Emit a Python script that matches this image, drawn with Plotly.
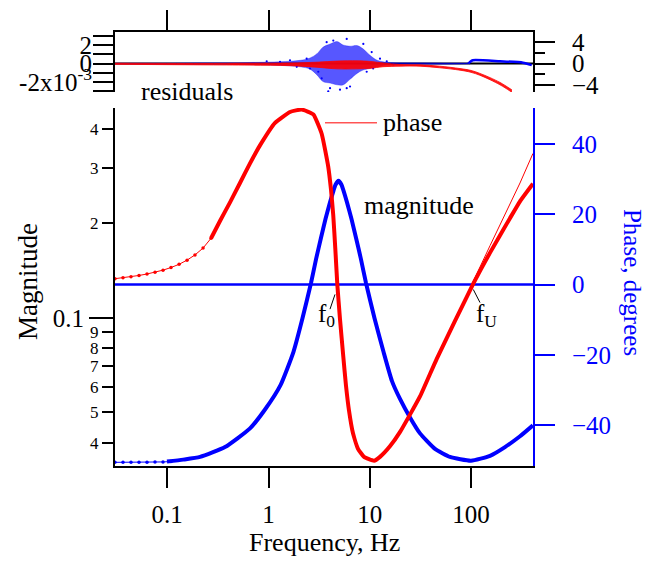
import plotly.graph_objects as go

# ---------------- data ----------------
# magnitude (left log axis), sparse low-frequency points
mag_freq_lo = [0.0305, 0.0366, 0.0439, 0.0527, 0.0632, 0.0758, 0.0909, 0.109]
mag_lo = [0.0346, 0.0346, 0.0346, 0.0346, 0.0346, 0.0347, 0.0347, 0.0348]

# magnitude, dense part
mag_freq = [0.0995, 0.144, 0.211, 0.372, 0.657, 0.924, 1.314, 1.765, 2.165, 2.628,
            2.944, 3.298, 3.653, 4.047, 4.383, 4.586, 4.909, 5.255, 5.500, 5.956,
            6.597, 7.307, 8.188, 9.173, 11.13, 13.65, 16.56, 19.87, 24.94, 31.30,
            44.01, 61.90, 99.77, 153.7, 216, 304, 408]
mag = [0.0348, 0.0353, 0.0360, 0.0387, 0.0444, 0.0510, 0.0610, 0.0779, 0.0996, 0.1291,
       0.1536, 0.1800, 0.2064, 0.2333, 0.2544, 0.2656, 0.2734, 0.2656, 0.2544, 0.2333,
       0.2064, 0.1800, 0.1536, 0.1291, 0.0996, 0.0779, 0.0628, 0.0551, 0.0481, 0.0428,
       0.0382, 0.0360, 0.0350, 0.0363, 0.0387, 0.0419, 0.0454]

# phase (right axis, degrees), sparse low-frequency points
phase_freq_lo = [0.0305, 0.0366, 0.0439, 0.0527, 0.0632, 0.0758, 0.0909, 0.109,
                 0.131, 0.157, 0.188, 0.226, 0.271]
phase_lo = [1.68, 1.96, 2.26, 2.60, 3.02, 3.49, 4.11, 4.86, 5.78, 6.96, 8.44, 10.39, 13.18]

# phase, dense part
phase_freq = [0.271, 0.332, 0.417, 0.523, 0.657, 0.824, 1.16, 1.63, 2.13, 2.77,
              3.35, 3.89, 4.14, 4.36, 4.565, 4.78, 5.08, 5.475, 5.823, 6.232,
              6.827, 7.647, 8.765, 11.0, 12.6, 15.8, 19.9, 31.3, 45.8, 104,
              154, 242, 304, 408]
phase = [13.18, 18.1, 23.4, 28.9, 34.5, 39.6, 46.0, 49.1, 49.8, 48.4,
         42.9, 33.5, 27.0, 19.6, 10.25, 0.0, -9.86, -20.5, -28.8, -35.8,
         -42.3, -46.7, -49.0, -50.1, -49.0, -46.0, -41.9, -31.8, -21.1, 0.0,
         9.1, 18.9, 23.7, 28.7]

# phase model curve (thin line) at high frequency
model_freq = [45.8, 90.5, 154, 304, 408]
model_phase = [-21.1, -2.79, 11.1, 28.9, 37.3]

# residuals: magnitude (units of 1e-3), band limits up to ~90 Hz
res_mag_freq = [0.0305, 0.211, 0.657, 1.30, 2.05, 2.57, 3.01, 3.45, 4.05, 4.75,
                5.44, 6.38, 7.48, 8.57, 10.05, 11.8, 13.5, 15.8, 31.3, 93.7]
res_mag_hi = [0.05, 0.08, 0.12, 0.2, 0.35, 0.6, 1.06, 1.77, 2.1, 2.37,
              2.0, 1.87, 1.94, 1.59, 0.89, 0.36, 0.2, 0.12, 0.08, 0.06]
res_mag_lo = [-0.05, -0.08, -0.12, -0.2, -0.35, -0.6, -1.23, -1.94, -2.1, -2.29,
              -2.3, -1.7, -1.06, -0.7, -0.53, -0.35, -0.2, -0.12, -0.08, -0.04]

# residuals: magnitude above ~90 Hz (units of 1e-3)
res_mag_hf_freq = [93.7, 97.5, 104, 193, 325, 397]
res_mag_hf = [0.0, 0.18, 0.36, 0.25, 0.1, -0.17]

# residuals: magnitude, scattered points (units of 1e-3)
res_mag_pt_freq = [3.89, 4.05, 3.35, 5.08, 5.92, 6.38, 3.10, 3.75, 5.92, 4.36,
                   8.63, 10.44, 12.61, 1.63, 1.90, 1.30, 0.96, 2.38, 2.57, 14.7,
                   17.1, 9.32, 10.8]
res_mag_pt = [-3.0, -2.65, -1.59, -2.81, -2.65, -2.47, -0.88, 2.30, 2.65, 2.48,
              2.12, 1.24, 0.53, 0.36, -0.35, 0.18, 0.25, 0.53, -0.53, 0.25,
              -0.10, -0.88, -0.53]

# residuals: phase (degrees), band limits
res_ph_freq = [0.0305, 0.211, 0.657, 1.63, 3.01, 4.75, 7.48, 10.05, 13.5, 19.9,
               31.3, 49.0, 77.7, 99.8, 122, 154, 193, 216, 253]
res_ph_hi = [0.05, 0.0, 0.05, 0.1, 0.25, 0.45, 0.5, 0.4, 0.1, -0.2,
             -0.25, -0.5, -0.95, -1.3, -1.85, -2.65, -3.55, -4.1, -4.95]
res_ph_lo = [-0.15, -0.25, -0.3, -0.4, -0.7, -1.0, -1.0, -0.9, -0.6, -0.5,
             -0.5, -0.8, -1.25, -1.65, -2.2, -3.05, -4.0, -4.55, -5.4]

freq_ticks = [0.1, 1, 10, 100]
freq_tick_text = ["0.1", "1", "10", "100"]
mag_minor_vals = [0.04, 0.05, 0.06, 0.07, 0.08, 0.09, 0.2, 0.3, 0.4]
mag_minor_text = ["4", "5", "6", "7", "8", "9", "2", "3", "4"]
phase_ticks = [-40, -20, 0, 20, 40]
res_mag_ticks = [-2e-3, 0, 2e-3]
res_mag_text = ["-2x10<sup>-3</sup>", "0", "2"]
res_ph_ticks = [-4, 0, 4]

# ---------------- styling ----------------
W, H = 647, 562
BLUE = "#0000ff"
RED = "#ff0000"
FONT = "Liberation Serif, Times New Roman, serif"
SCALE = 1e-3


def px(x):
    return x / W


def py(y):
    return 1 - y / H


x_dom = [px(115), px(533)]
main_dom = [py(471), py(107)]
res_dom = [py(90.5), py(30)]
x_range = [-1.5153, 2.6111]
mag_range = [-1.4714, -0.3314]

fig = go.Figure()

# magnitude
fig.add_trace(go.Scatter(x=mag_freq_lo, y=mag_lo, mode="lines+markers",
                         line=dict(color=BLUE, width=1), marker=dict(color=BLUE, size=3.5),
                         xaxis="x", yaxis="y", hoverinfo="skip"))
fig.add_trace(go.Scatter(x=mag_freq, y=mag, mode="lines",
                         line=dict(color=BLUE, width=4, shape="spline", smoothing=0.5),
                         xaxis="x", yaxis="y", hoverinfo="skip"))
# same magnitude data carried by the overlay axis that holds the 0.1 decade tick
fig.add_trace(go.Scatter(x=mag_freq, y=mag, mode="lines", opacity=0,
                         line=dict(width=0), xaxis="x", yaxis="y5", hoverinfo="skip"))

# phase
fig.add_trace(go.Scatter(x=phase_freq_lo, y=phase_lo, mode="lines+markers",
                         line=dict(color=RED, width=1), marker=dict(color=RED, size=3.5),
                         xaxis="x", yaxis="y2", hoverinfo="skip"))
fig.add_trace(go.Scatter(x=model_freq, y=model_phase, mode="lines",
                         line=dict(color=RED, width=1),
                         xaxis="x", yaxis="y2", hoverinfo="skip"))
fig.add_trace(go.Scatter(x=phase_freq, y=phase, mode="lines",
                         line=dict(color=RED, width=4, shape="spline", smoothing=0.4),
                         xaxis="x", yaxis="y2", hoverinfo="skip"))

# magnitude residuals
fig.add_trace(go.Scatter(x=res_mag_freq, y=[v * SCALE for v in res_mag_lo], mode="lines",
                         line=dict(color="rgba(0,0,255,0.6)", width=0.5, shape="spline"),
                         xaxis="x2", yaxis="y3", hoverinfo="skip"))
fig.add_trace(go.Scatter(x=res_mag_freq, y=[v * SCALE for v in res_mag_hi], mode="lines",
                         line=dict(color="rgba(0,0,255,0.6)", width=0.5, shape="spline"),
                         fill="tonexty", fillcolor="rgba(0,0,255,0.66)",
                         xaxis="x2", yaxis="y3", hoverinfo="skip"))
fig.add_trace(go.Scatter(x=res_mag_hf_freq, y=[v * SCALE for v in res_mag_hf], mode="lines",
                         line=dict(color=BLUE, width=2.5, shape="spline", smoothing=0.6),
                         xaxis="x2", yaxis="y3", hoverinfo="skip"))
fig.add_trace(go.Scatter(x=res_mag_pt_freq, y=[v * SCALE for v in res_mag_pt], mode="markers",
                         marker=dict(color=BLUE, size=2.2),
                         xaxis="x2", yaxis="y3", hoverinfo="skip"))

# phase residuals
fig.add_trace(go.Scatter(x=res_ph_freq, y=res_ph_lo, mode="lines",
                         line=dict(color=RED, width=0.8, shape="spline"),
                         xaxis="x2", yaxis="y4", hoverinfo="skip"))
fig.add_trace(go.Scatter(x=res_ph_freq, y=res_ph_hi, mode="lines",
                         line=dict(color=RED, width=0.8, shape="spline"),
                         fill="tonexty", fillcolor="rgba(255,0,0,0.9)",
                         xaxis="x2", yaxis="y4", hoverinfo="skip"))

axis_common = dict(showgrid=False, zeroline=False, showline=True, linewidth=2,
                   tickwidth=2, ticks="outside")

fig.update_layout(
    width=W, height=H,
    margin=dict(l=0, r=0, t=0, b=0),
    paper_bgcolor="white", plot_bgcolor="white",
    font=dict(family=FONT, color="black", size=25),
    showlegend=False,
    xaxis=dict(domain=x_dom, type="log", range=x_range, anchor="y",
               linecolor="black", tickcolor="black", ticklen=20,
               tickvals=freq_ticks, ticktext=freq_tick_text,
               tickfont=dict(size=25), ticklabelstandoff=5, **axis_common),
    yaxis=dict(domain=main_dom, type="log", range=mag_range, anchor="x",
               linecolor="black", tickcolor="black", ticklen=11,
               tickvals=mag_minor_vals, ticktext=mag_minor_text,
               tickfont=dict(size=17), **axis_common),
    yaxis5=dict(overlaying="y", type="log", range=mag_range, anchor="x",
                side="left", showgrid=False, zeroline=False, showline=False,
                ticks="outside", ticklen=25, tickwidth=2, tickcolor="black",
                tickvals=[0.1], ticktext=["0.1"], tickfont=dict(size=25)),
    yaxis2=dict(overlaying="y", side="right", anchor="x", range=[-51.48, 50.20],
                linecolor=BLUE, tickcolor=BLUE, ticklen=20,
                tickvals=phase_ticks, tickfont=dict(size=25, color=BLUE),
                ticklabelstandoff=12, **axis_common),
    xaxis2=dict(domain=x_dom, type="log", range=x_range, anchor="y3", side="top",
                linecolor="black", tickcolor="black", ticklen=20,
                tickvals=freq_ticks, showticklabels=False, **axis_common),
    yaxis3=dict(domain=res_dom, range=[-3.05e-3, 3.35e-3], anchor="x2",
                linecolor="black", tickcolor="black", ticklen=20,
                tickvals=res_mag_ticks, ticktext=res_mag_text, tickfont=dict(size=25),
                ticklabelstandoff=-4,
                minor=dict(tickvals=[-3e-3, -1e-3, 1e-3, 3e-3], ticks="outside",
                           ticklen=20, tickwidth=2, tickcolor="black"),
                **axis_common),
    yaxis4=dict(overlaying="y3", side="right", anchor="x2", range=[-5.32, 5.82],
                linecolor="black", tickcolor="black", ticklen=20,
                tickvals=res_ph_ticks, tickfont=dict(size=25),
                minor=dict(tickvals=[-2, 2], ticks="outside", ticklen=10,
                           tickwidth=2, tickcolor="black"),
                ticklabelstandoff=12, **axis_common),
)

# reference lines
fig.add_shape(type="line", xref="x domain", yref="y2", x0=0, x1=1, y0=0, y1=0,
              line=dict(color=BLUE, width=2.5), layer="below")
fig.add_shape(type="line", xref="x2 domain", yref="y3", x0=0, x1=1, y0=0, y1=0,
              line=dict(color="black", width=2), layer="below")

# leader lines for labels
fig.add_shape(type="line", xref="paper", yref="paper", x0=px(325), x1=px(377),
              y0=py(122), y1=py(122), line=dict(color=RED, width=1))
fig.add_shape(type="line", xref="paper", yref="paper", x0=px(330), x1=px(335),
              y0=py(311.7), y1=py(296.7), line=dict(color="black", width=1))
fig.add_shape(type="line", xref="paper", yref="paper", x0=px(480), x1=px(473.3),
              y0=py(305), y1=py(291.7), line=dict(color="black", width=1))


def label(text, x, y, size=26, color="black", angle=0, xanchor="center"):
    fig.add_annotation(text=text, x=px(x), y=py(y), xref="paper", yref="paper",
                       showarrow=False, textangle=angle, xanchor=xanchor, yanchor="middle",
                       font=dict(size=size, color=color, family=FONT))


label("Magnitude", 28, 284, size=27, angle=-90)
label("Phase, degrees", 632, 284, size=25, color=BLUE, angle=90)
label("Frequency, Hz", 324, 549, size=26)
label("residuals", 187, 90, size=26)
label("phase", 381, 121.7, size=26, xanchor="left")
label("magnitude", 362, 206, size=26, xanchor="left")
label("f<sub>0</sub>", 316, 318, size=25, xanchor="left")
label("f<sub>U</sub>", 474, 318, size=25, xanchor="left")

fig.write_html("out.html")
